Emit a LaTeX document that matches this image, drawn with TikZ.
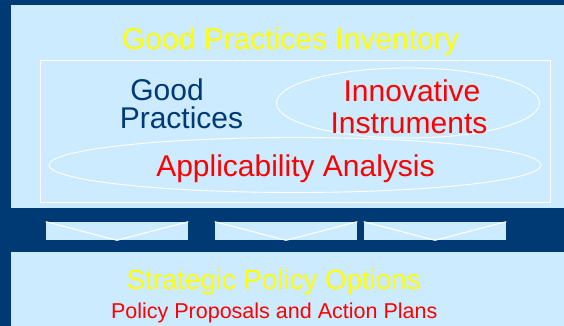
\documentclass[tikz,border=0pt]{standalone}
\usepackage{fontspec}
\setmainfont{Liberation Sans}
\usetikzlibrary{shapes.geometric}

\definecolor{navy}{RGB}{0,58,117}
\definecolor{pale}{RGB}{204,235,255}
\definecolor{gold}{RGB}{255,255,0}
\definecolor{alert}{RGB}{255,0,0}

\begin{document}
\begin{tikzpicture}[x=1pt,y=1pt,inner sep=0pt,
  semithick]
  \tikzstyle{panel}=[fill=pale]
  \tikzstyle{oval}=[ellipse,draw=white,line width=0.9pt,fill=pale]
  \tikzstyle{arrowbox}=[rectangle,fill=pale,minimum width=142pt,minimum height=18pt]
  \tikzstyle{vline}=[draw=white,line width=1.1pt]
  \tikzstyle{big}=[anchor=base,font=\fontsize{30}{30}\selectfont]

  \useasboundingbox (0,0) rectangle (564,326);
  \fill[navy] (0,0) rectangle (564,326);

  % upper panel
  \fill[panel] (11,118) rectangle (564,321);
  \draw[white,line width=0.9pt] (40,124) rectangle (550,266);
  \node[big,text=gold] (inventory) at (290.5,276.7) {Good Practices Inventory};

  \node[oval,minimum width=263pt,minimum height=70pt] (innov) at (408,223) {};
  \node[oval,minimum width=492pt,minimum height=55pt] (appl) at (295,161) {};

  \node[big,text=navy] (good)   at (167,225.3) {Good};
  \node[big,text=navy] (pract)  at (181.5,197) {Practices};
  \node[big,text=alert] (innovtxt) at (412,224.3) {Innovative};
  \node[big,text=alert] (instr)    at (409,192) {Instruments};
  \node[big,text=alert] (appltxt)  at (295.5,149.3) {Applicability Analysis};

  % arrows
  \node[arrowbox] (arrA) at (117,95) {};
  \node[arrowbox] (arrB) at (286,95) {};
  \node[arrowbox] (arrC) at (435,95) {};
  \foreach \a in {arrA,arrB,arrC}
    \draw[vline] (\a.north west) -- (\a.south) -- (\a.north east);

  % lower panel
  \fill[panel] (11,0) rectangle (564,74);
  \node[anchor=base,text=gold,font=\fontsize{27.7}{28}\selectfont] (options) at (273.7,36) {Strategic Policy Options};
  \node[anchor=base,text=alert,font=\fontsize{21.5}{22}\selectfont] (plans) at (274.2,7) {Policy Proposals and Action Plans};
\end{tikzpicture}
\end{document}
